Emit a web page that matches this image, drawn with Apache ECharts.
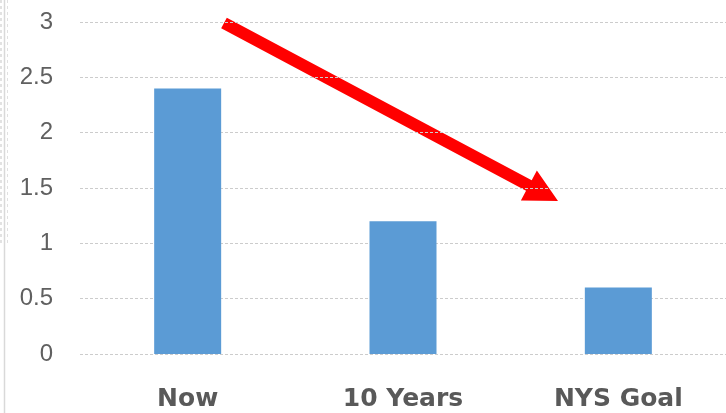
<!DOCTYPE html>
<html>
<head>
<meta charset="utf-8">
<script src="https://cdn.jsdelivr.net/npm/echarts@6/dist/echarts.min.js"></script>
<style>
html,body{margin:0;padding:0;background:#fff;}
#main{width:726px;height:413px;}
</style>
</head>
<body>
<div id="main"></div>
<script>
var categories = ['Now', '10 Years', 'NYS Goal'];
var values = [2.4, 1.2, 0.6];
var yTicks = [0, 0.5, 1, 1.5, 2, 2.5, 3];

var chart = echarts.init(document.getElementById('main'), null, {renderer: 'canvas'});

function arrowPoints(tail, tip, h, H, headLen) {
  var dx = tip[0] - tail[0], dy = tip[1] - tail[1];
  var L = Math.sqrt(dx * dx + dy * dy);
  var ux = dx / L, uy = dy / L;
  var nx = -uy, ny = ux;
  var bx = tip[0] - headLen * ux, by = tip[1] - headLen * uy;
  return [
    [tail[0] + h * nx, tail[1] + h * ny],
    [bx + h * nx, by + h * ny],
    [bx + H * nx, by + H * ny],
    [tip[0], tip[1]],
    [bx - H * nx, by - H * ny],
    [bx - h * nx, by - h * ny],
    [tail[0] - h * nx, tail[1] - h * ny]
  ];
}

chart.setOption({
  animation: false,
  backgroundColor: '#ffffff',
  grid: {left: 80, right: 0, top: 22, bottom: 59},
  xAxis: {
    type: 'category',
    data: categories,
    axisLine: {show: false},
    axisTick: {show: false},
    axisLabel: {
      margin: 33,
      fontFamily: 'DejaVu Sans',
      fontWeight: 'bold',
      fontSize: 25,
      color: '#595959'
    }
  },
  yAxis: {
    type: 'value',
    min: yTicks[0],
    max: yTicks[yTicks.length - 1],
    interval: 0.5,
    axisLine: {show: false},
    axisTick: {show: false},
    axisLabel: {
      margin: 27,
      fontFamily: 'Liberation Sans',
      fontSize: 24,
      color: '#606060'
    },
    splitLine: {
      lineStyle: {color: '#cccccc', width: 1, type: [3, 2]}
    }
  },
  series: [{
    type: 'bar',
    data: values,
    barWidth: 67,
    itemStyle: {color: '#5B9BD5'}
  }],
  graphic: [
    {
      type: 'line',
      shape: {x1: 4.5, y1: 0, x2: 4.5, y2: 413},
      style: {stroke: '#d9d9d9', lineWidth: 1.5}
    },
    {
      type: 'line',
      shape: {x1: 1, y1: 0, x2: 1, y2: 245},
      style: {stroke: '#d9d9d9', lineWidth: 1.5, lineDash: [3, 3]}
    },
    {
      type: 'line',
      shape: {x1: 7.5, y1: 0, x2: 7.5, y2: 245},
      style: {stroke: '#e0e0e0', lineWidth: 1, lineDash: [3, 3]}
    },
    {
      type: 'polygon',
      shape: {points: arrowPoints([224, 23], [558, 201], 6, 17, 33)},
      style: {fill: '#ff0000'}
    }
  ]
});
</script>
</body>
</html>
